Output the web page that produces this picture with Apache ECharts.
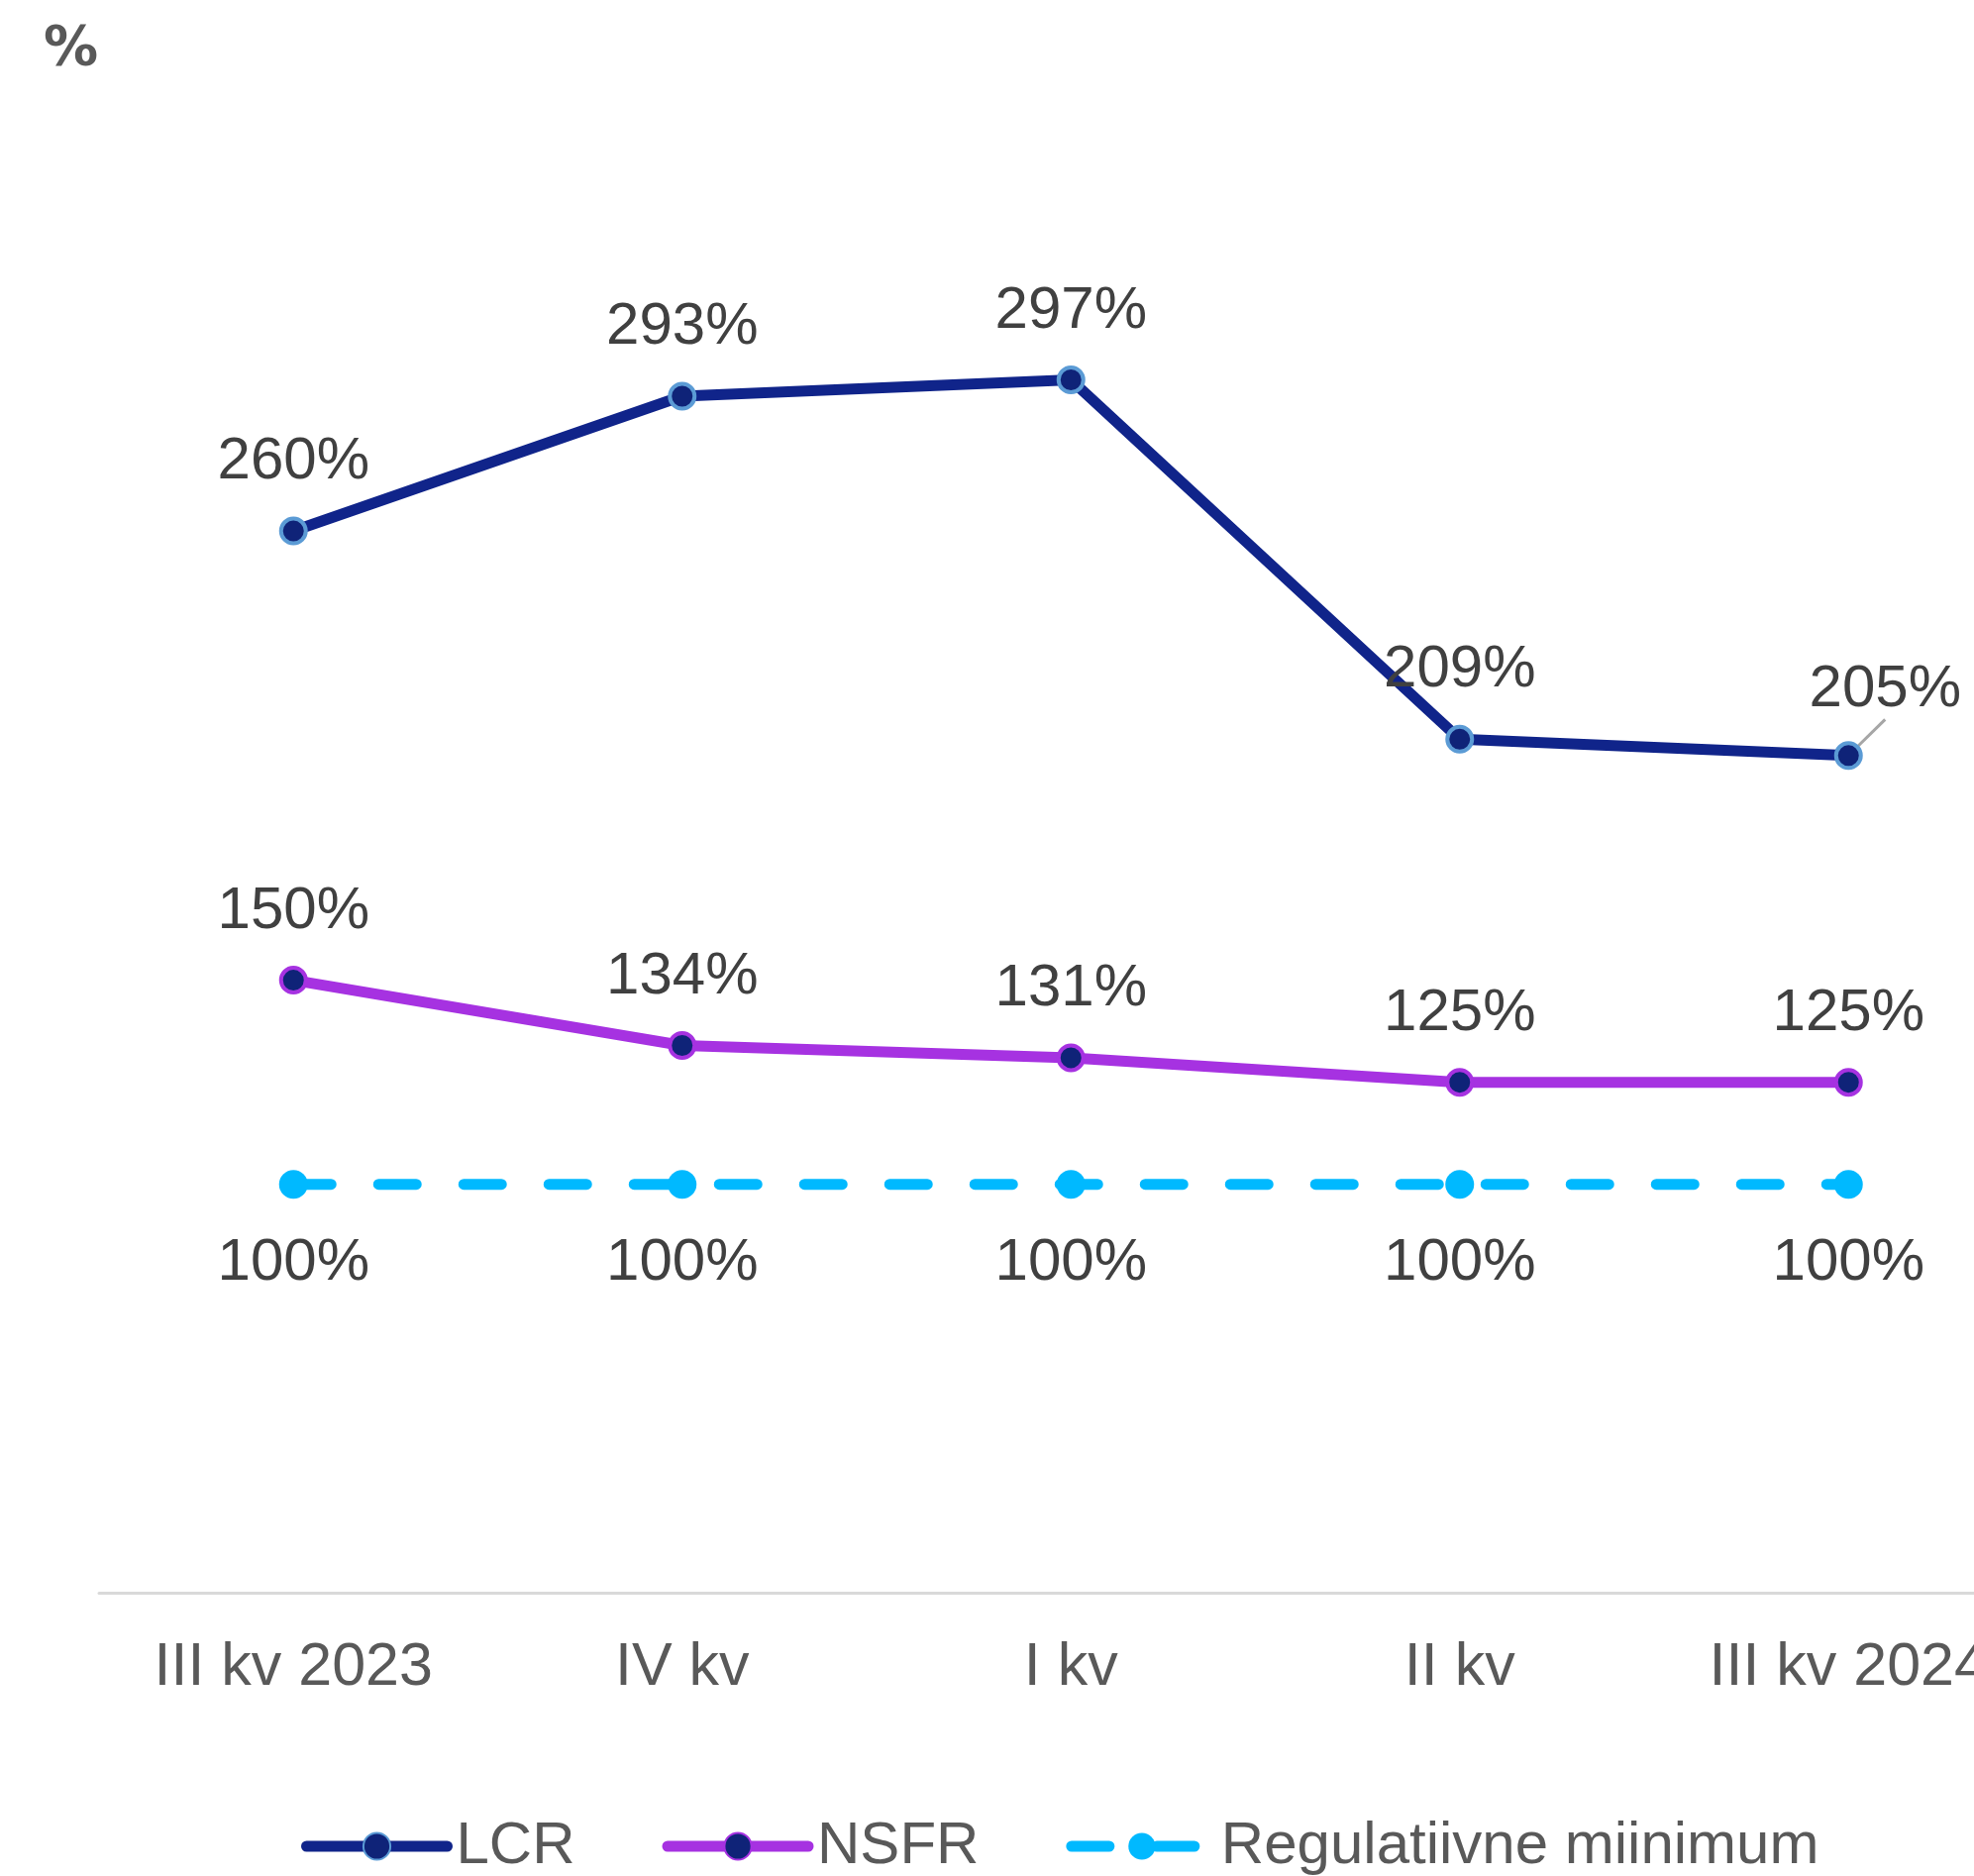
<!DOCTYPE html>
<html>
<head>
<meta charset="utf-8">
<script src="https://cdn.jsdelivr.net/npm/echarts@6/dist/echarts.min.js"></script>
<style>
html,body{margin:0;padding:0;background:#fff;overflow:hidden}
#chart{width:1993px;height:1894px}
</style>
</head>
<body>
<div id="chart"></div>
<script>
const categories = ['III kv 2023', 'IV kv', 'I kv', 'II kv', 'III kv 2024']
const lcrValues = [260, 293, 297, 209, 205]
const nsfrValues = [150, 134, 131, 125, 125]
const minValues = [100, 100, 100, 100, 100]
const seriesNames = ['LCR', 'NSFR', 'Regulatiivne miinimum']

const font = 'Liberation Sans, Arial, sans-serif'

// last LCR label is pushed right with a small leader line
const lcrData = lcrValues.map((v, i) => i === lcrValues.length - 1
    ? { value: v, labelLine: { show: true, lineStyle: { color: '#a6a6a6', width: 3 } } }
    : v)

const chart = echarts.init(document.getElementById('chart'))
chart.setOption({
    animation: false,
    title: {
        text: '%',
        left: 39,
        top: 18,
        textStyle: { fontFamily: 'DejaVu Sans', fontWeight: 'bold', fontSize: 55, color: '#595959' }
    },
    legend: {
        left: 299,
        top: 1829,
        itemWidth: 142,
        itemHeight: 34,
        itemGap: 88,
        data: seriesNames,
        lineStyle: { width: 11, cap: 'round' },
        textStyle: { fontFamily: font, fontSize: 60, color: '#595959', padding: [0, 0, 0, 4] }
    },
    grid: {
        left: 100,
        top: 165,
        width: 1962.5,
        height: 1443,
        containLabel: false,
        outerBoundsMode: 'none'
    },
    xAxis: {
        type: 'category',
        data: categories,
        axisTick: { show: false },
        axisLine: { lineStyle: { color: '#d9d9d9', width: 3 } },
        axisLabel: { fontFamily: font, fontSize: 61, color: '#595959', margin: 46 }
    },
    yAxis: {
        type: 'value',
        min: 0,
        max: 350,
        show: false,
        splitLine: { show: false }
    },
    series: [
        {
            name: seriesNames[0],
            type: 'line',
            data: lcrData,
            symbol: 'circle',
            symbolSize: 25,
            z: 3,
            lineStyle: { color: '#10248a', width: 11 },
            itemStyle: { color: '#0f2378', borderColor: '#5b9bd5', borderWidth: 4 },
            label: {
                show: true, position: 'top', distance: 25,
                formatter: '{c}%', fontFamily: font, fontSize: 60, color: '#404040'
            },
            labelLayout: function (p) {
                return p.dataIndex === lcrValues.length - 1 ? { dx: 37, dy: 3 } : {}
            }
        },
        {
            name: seriesNames[1],
            type: 'line',
            data: nsfrValues,
            symbol: 'circle',
            symbolSize: 25,
            z: 3,
            lineStyle: { color: '#a632e1', width: 11 },
            itemStyle: { color: '#0f2378', borderColor: '#a632e1', borderWidth: 4 },
            label: {
                show: true, position: 'top', distance: 25,
                formatter: '{c}%', fontFamily: font, fontSize: 60, color: '#404040'
            }
        },
        {
            name: seriesNames[2],
            type: 'line',
            data: minValues,
            symbol: 'circle',
            symbolSize: 29,
            z: 2,
            lineStyle: { color: '#00b9ff', width: 11, type: [38, 48], cap: 'round' },
            itemStyle: { color: '#00b9ff' },
            label: {
                show: true, position: 'bottom', distance: 35,
                formatter: '{c}%', fontFamily: font, fontSize: 60, color: '#404040'
            }
        }
    ]
})
</script>
</body>
</html>
